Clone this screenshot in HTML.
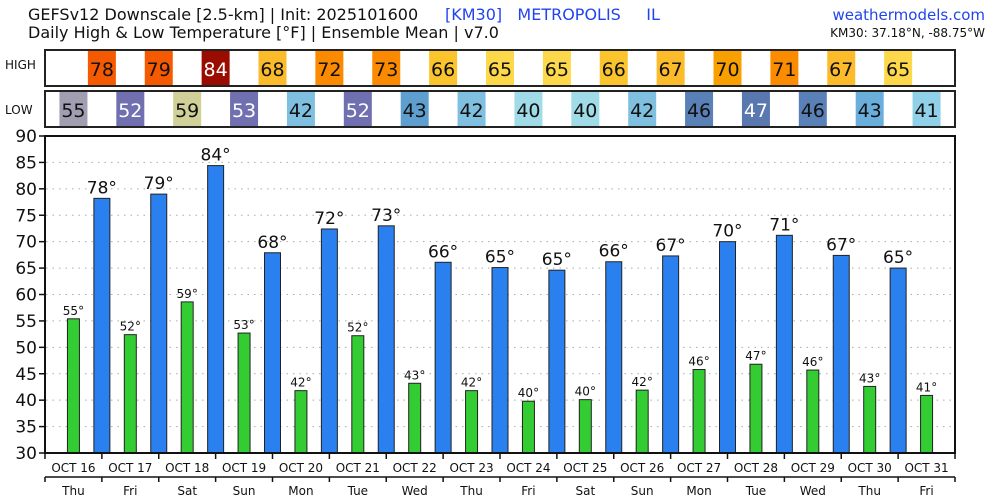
<!DOCTYPE html>
<html><head><meta charset="utf-8"><style>
body{margin:0;background:#fff;width:1000px;height:500px;overflow:hidden}
svg{display:block;font-family:"DejaVu Sans","Liberation Sans",sans-serif}
</style></head><body>
<svg id="s" width="1000" height="500" xmlns="http://www.w3.org/2000/svg">
<text x="28" y="20" font-size="16" fill="#111">GEFSv12 Downscale [2.5-km] | Init: 2025101600</text>
<text x="28" y="38" font-size="16" fill="#111">Daily High &amp; Low Temperature [°F] | Ensemble Mean | v7.0</text>
<text x="445" y="20" font-size="16" fill="#2244ee" xml:space="preserve">[KM30]   METROPOLIS     IL</text>
<text x="985" y="20" font-size="15" fill="#2244ee" text-anchor="end">weathermodels.com</text>
<text x="985" y="37" font-size="12" fill="#111" text-anchor="end">KM30: 37.18°N, -88.75°W</text>
<text x="5" y="69" font-size="12" fill="#111">HIGH</text>
<text x="5" y="114" font-size="12" fill="#111">LOW</text>
</svg>
<script>
const s=document.getElementById('s');let h='';
const hi=[78,79,84,68,72,73,66,65,65,66,67,70,71,67,65];
const hv=[78.2,79,84.4,67.9,72.4,73,66.1,65.1,64.6,66.2,67.3,70,71.2,67.4,65];
const hiC=['#f55a00','#f55a00','#9a0c00','#fbbb2a','#fb8a00','#fb8a00','#fbc42d','#fdd84a','#fdd84a','#fbc42d','#fbbb2a','#f9a000','#fb8c00','#fbbb2a','#fdd84a'];
const lo=[55,52,59,53,42,52,43,42,40,40,42,46,47,46,43,41];
const lv=[55.4,52.4,58.6,52.7,41.8,52.2,43.2,41.8,39.8,40.1,41.9,45.8,46.8,45.7,42.6,40.9];
const loC=['#a09eb0','#7070b0','#d0d098','#7070b0','#7fc0e0','#7070b0','#5f9fd0','#7fc0e0','#a0dbe8','#a0dbe8','#7fc0e0','#5a80b8','#5a78b0','#5a80b8','#6aaedc','#90d0e8'];
const loW=[0,1,0,1,0,1,0,0,0,0,0,0,1,0,0,0];
const sp=56.875,X0=45;
const Y=v=>453-(v-30)*317/60;
const days=['Thu','Fri','Sat','Sun','Mon','Tue','Wed','Thu','Fri','Sat','Sun','Mon','Tue','Wed','Thu','Fri'];
h+=`<rect x="45" y="50" width="910" height="36" fill="#fff" stroke="#222" stroke-width="2"/>`;
h+=`<rect x="45" y="91" width="910" height="36" fill="#fff" stroke="#222" stroke-width="2"/>`;
hi.forEach((v,i)=>{const c=X0+sp*(i+1);h+=`<rect x="${c-14}" y="51" width="28" height="34" fill="${hiC[i]}"/><text x="${c}" y="76" font-size="19" text-anchor="middle" fill="${v==84?'#fff':'#111'}">${v}</text>`;});
lo.forEach((v,i)=>{const c=X0+sp*(i+0.5);h+=`<rect x="${c-14}" y="92" width="28" height="34" fill="${loC[i]}"/><text x="${c}" y="117" font-size="19" text-anchor="middle" fill="${loW[i]?'#fff':'#111'}">${v}</text>`;});
for(let v=35;v<90;v+=5){h+=`<line x1="46" x2="954" y1="${Y(v)}" y2="${Y(v)}" stroke="#aaa" stroke-dasharray="1.5,5"/>`;}
for(let v=30;v<=90;v+=5){h+=`<line x1="39" x2="45" y1="${Y(v)}" y2="${Y(v)}" stroke="#111" stroke-width="1.5"/><text x="37" y="${Y(v)+6}" font-size="17" text-anchor="end" fill="#111">${v}</text>`;}
lo.forEach((v,i)=>{const c=X0+sp*(i+0.5);h+=`<rect x="${c-6}" y="${Y(lv[i])}" width="12" height="${453-Y(lv[i])}" fill="#33cc33" stroke="#222" stroke-width="1"/><text x="${c}" y="${Y(lv[i])-4}" font-size="12" text-anchor="middle" fill="#111">${v}°</text>`;});
hi.forEach((v,i)=>{const c=X0+sp*(i+1);h+=`<rect x="${c-8}" y="${Y(hv[i])}" width="16" height="${453-Y(hv[i])}" fill="#2a80ee" stroke="#222" stroke-width="1"/><text x="${c}" y="${Y(hv[i])-5}" font-size="17" text-anchor="middle" fill="#111">${v}°</text>`;});
h+=`<rect x="45" y="136" width="910" height="317" fill="none" stroke="#111" stroke-width="2"/>`;
h+=`<line x1="45" x2="955" y1="477" y2="477" stroke="#111" stroke-width="1.5"/>`;
for(let i=0;i<=16;i++){const x=X0+sp*i;h+=`<line x1="${x}" x2="${x}" y1="453" y2="459" stroke="#111" stroke-width="1.5"/><line x1="${x}" x2="${x}" y1="477" y2="482" stroke="#111" stroke-width="1.5"/>`;}
for(let i=0;i<16;i++){const c=X0+sp*(i+0.5);h+=`<text x="${c}" y="472" font-size="12" text-anchor="middle" fill="#111">OCT ${16+i}</text><text x="${c}" y="495" font-size="12" text-anchor="middle" fill="#111">${days[i]}</text>`;}
s.insertAdjacentHTML('beforeend',h);
</script>
</body></html>
